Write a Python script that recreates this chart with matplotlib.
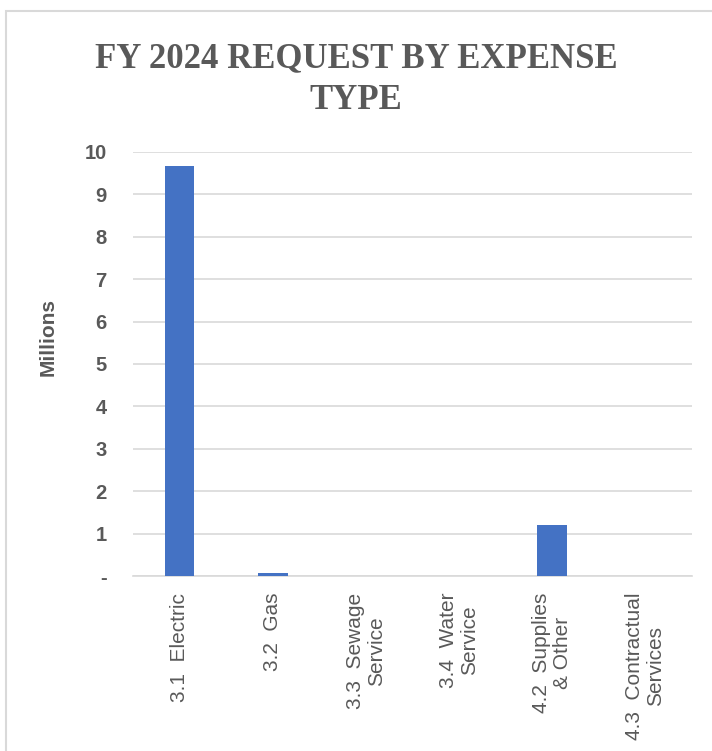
import numpy as np
import matplotlib.pyplot as plt
from matplotlib.patches import Rectangle
from matplotlib import font_manager

# values in millions
categories = ['3.1  Electric', '3.2  Gas', '3.3  Sewage\nService',
              '3.4  Water\nService', '4.2  Supplies\n& Other',
              '4.3  Contractual\nServices']
values = [9.68, 0.07, 0.0, 0.0, 1.2, 0.01]
ytick_vals = [0, 1, 2, 3, 4, 5, 6, 7, 8, 9, 10]
ytick_labels = ['-', '1', '2', '3', '4', '5', '6', '7', '8', '9', '10']

grey = '#595959'
blue = '#4472C4'

names = {f.name for f in font_manager.fontManager.ttflist}
sans = 'Liberation Sans Narrow' if 'Liberation Sans Narrow' in names else 'Liberation Sans'

fig = plt.figure(figsize=(7.12, 7.51), dpi=100)
ax = fig.add_axes([133 / 712, 1 - 576 / 751, 559 / 712, 424 / 751])

x = np.arange(len(categories))
ax.bar(x, values, width=0.32, color=blue, zorder=3)

ax.set_xlim(-0.5, len(categories) - 0.5)
ax.set_ylim(0, 10)
ax.set_yticks(ytick_vals)
ax.set_yticklabels(ytick_labels, fontsize=14.5, fontweight='bold',
                   color=grey, family=sans)
ax.set_xticks(x)
ax.set_xticklabels(categories, rotation=90, fontsize=15, color=grey,
                   family=sans, ha='center', va='top',
                   multialignment='center', linespacing=1.15)
ax.tick_params(axis='both', length=0)
ax.tick_params(axis='y', pad=19)
ax.tick_params(axis='x', pad=12)

ax.grid(axis='y', color='#d9d9d9', linewidth=1.2, zorder=0)
for s in ['top', 'right', 'left']:
    ax.spines[s].set_visible(False)
ax.spines['bottom'].set_color('#d9d9d9')
ax.spines['bottom'].set_linewidth(1.2)

fig.text(48 / 712, 1 - 337 / 751, 'Millions', rotation=90, ha='center',
         va='center', fontsize=15, fontweight='bold', color=grey, family=sans)

fig.text(0.5, 1 - 80 / 751, 'FY 2024 REQUEST BY EXPENSE\nTYPE',
         ha='center', va='center', fontsize=25, fontweight='bold',
         color=grey, family='Liberation Serif', linespacing=1.35)

# outer chart border
fig.patches.append(Rectangle((6 / 712, -0.01), 1.0, 1 - 10.5 / 751 + 0.01,
                             transform=fig.transFigure, fill=False,
                             edgecolor='#d9d9d9', linewidth=1.5))

fig.savefig('out.png', dpi=100)
